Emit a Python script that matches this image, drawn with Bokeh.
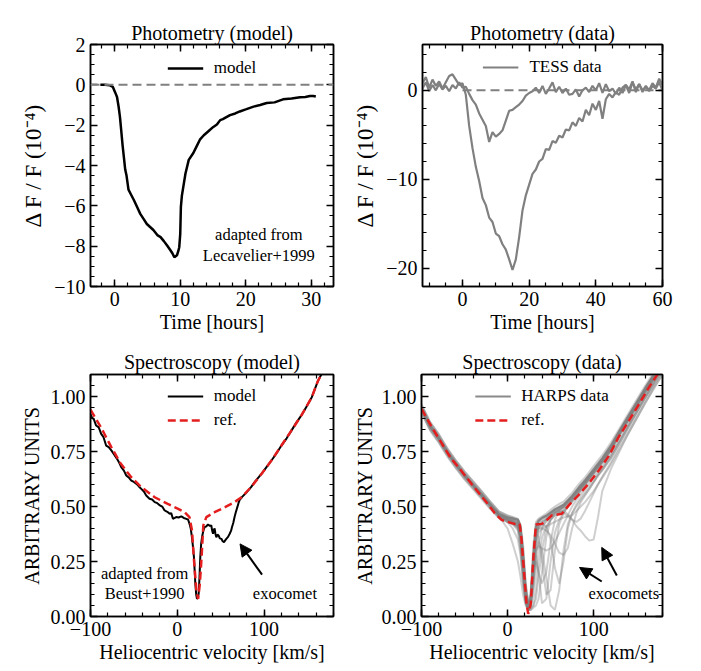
from bokeh.plotting import figure
from bokeh.models import (LinearAxis, SingleIntervalTicker, CustomJSTickFormatter, Span,
                          Arrow, NormalHead, Legend, LegendItem, Range1d, Label,
                          CustomLabelingPolicy)
from bokeh.layouts import column, row
from bokeh.embed import file_html
from bokeh.resources import INLINE

FONT = "Liberation Serif"
GRAY = "#808080"
RED = "#e41e1e"

# ---------------- photometry model (hours, 1e-4) ----------------
phot_model_t = [-2.2, -1.5, -0.8, -0.3, 0.1, 0.35, 0.6, 0.8, 1.0, 1.2,
                1.4, 1.6, 1.8, 2.1, 2.5, 2.9, 3.4, 3.9, 4.4, 4.9,
                5.4, 5.9, 6.5, 7.0, 7.5, 8.0, 8.5, 8.8, 9.1, 9.3,
                9.5, 9.7, 9.85, 10.0, 10.1, 10.25, 10.5, 10.8, 11.3, 12.0,
                12.5, 13.0, 13.6, 14.3, 15.0, 15.6, 16.1, 16.5, 17.6, 18.4,
                19.1, 20.0, 21.2, 22.2, 23.2, 24.4, 25.7, 27.0, 28.3, 29.1,
                29.8, 30.3, 30.7]
phot_model_f = [0.0, 0.0, -0.02, -0.1, -0.4, -0.6, -1.1, -1.6, -2.3, -3.0,
                -3.6, -4.2, -4.5, -5.2, -5.45, -5.7, -6.05, -6.4, -6.65, -6.9,
                -7.05, -7.2, -7.45, -7.55, -7.75, -7.97, -8.2, -8.35, -8.55, -8.5,
                -8.45, -8.25, -8.05, -7.4, -6.05, -5.5, -5.0, -4.4, -3.72, -3.38,
                -3.05, -2.72, -2.5, -2.3, -2.1, -1.97, -1.75, -1.7, -1.5, -1.42,
                -1.32, -1.22, -1.08, -1.0, -0.9, -0.87, -0.72, -0.68, -0.62, -0.6,
                -0.55, -0.55, -0.58]

# ---------------- TESS light curves (hourly) ----------------
tess_t = list(range(-12, 61))
tess_deep = [0.8, 1.5, 0.3, 1.2, 0.5, 1.0, 0.2, 0.9, 1.6, 1.8,
             1.2, 0.6, 0.8, -0.5, -4.0, -6.5, -8.6, -10.2, -12.1, -12.9,
             -14.3, -14.8, -16.1, -16.4, -17.3, -17.9, -19.0, -20.2, -19.0, -16.5,
             -13.5, -11.8, -10.6, -9.4, -8.9, -8.0, -7.7, -6.6, -6.7, -5.7,
             -5.9, -5.1, -5.3, -4.4, -4.5, -3.6, -4.0, -3.1, -3.5, -2.2,
             -2.8, -1.5, -2.2, -1.2, -3.2, -1.0, -0.4, -0.8, -0.2, -0.5,
             0.3, 0.6, -0.3, 0.9, 0.1, 0.7, -0.2, 0.5, 0.0, 0.8,
             0.3, 1.3, 0.6]
tess_shallow = [0.2, 0.9, -0.1, 0.6, 0.0, 0.7, 0.1, 0.5, -0.1, 0.6,
                0.2, 0.9, 0.3, 0.4, -0.4, -1.1, -1.6, -2.6, -3.3, -4.0,
                -5.8, -4.7, -5.2, -4.9, -4.5, -3.4, -2.3, -2.2, -1.9, -1.6,
                -1.2, -0.6, -0.3, -0.1, 0.3, -0.3, 0.5, -0.4, 0.2, 0.9,
                -0.2, 0.4, -0.3, 0.2, -0.5, -0.4, 0.1, -0.7, 0.0, 0.3,
                -0.2, 0.5, 0.0, 0.8, -0.3, 0.7, -0.1, 0.2, -0.4, 0.3,
                -0.3, 0.6, 0.1, 1.0, -0.2, 0.7, 0.0, 0.4, -0.1, 0.5,
                0.2, 0.9, 0.0]

# ---------------- spectroscopy model (km/s, arbitrary units) ----------------
spec_model_v = [-100, -98.5, -96, -93.5, -90.5, -87.7, -85, -82, -79, -76,
                -73, -70, -67, -64.6, -61.5, -58.8, -56, -53, -50, -47,
                -44, -41.5, -38.5, -35.8, -32, -29, -26, -23, -20, -17,
                -14.6, -11.5, -8.8, -7, -5, -3, -1.2, 1.5, 4.6, 7.5,
                10.4, 12.5, 14.2, 15.5, 16.9, 18, 19.2, 20, 20.8, 21.8,
                22.7, 23.6, 24.6, 25.5, 26.5, 27.5, 28.5, 30, 31.5, 33.5,
                35.4, 37.5, 39.2, 40.2, 41.2, 42, 43, 44, 45, 46.3,
                47.7, 49, 50.8, 52.3, 53.8, 55, 56.5, 58.5, 60.4, 62,
                63, 64.5, 66, 67.5, 69.2, 70.5, 71.9, 75, 80, 85,
                90, 97, 103, 108.5, 114, 120, 126, 131.5, 137, 143,
                149, 155, 162, 166, 170, 180]
spec_model_f = [0.92, 0.906, 0.895, 0.868, 0.86, 0.83, 0.815, 0.777, 0.77, 0.755,
                0.738, 0.72, 0.70, 0.679, 0.663, 0.641, 0.632, 0.618, 0.612, 0.603,
                0.59, 0.58, 0.568, 0.55, 0.535, 0.532, 0.52, 0.515, 0.505, 0.498,
                0.482, 0.476, 0.467, 0.47, 0.444, 0.448, 0.452, 0.45, 0.455, 0.448,
                0.444, 0.44, 0.42, 0.40, 0.36, 0.32, 0.27, 0.21, 0.148, 0.10,
                0.08, 0.085, 0.103, 0.17, 0.27, 0.33, 0.36, 0.39, 0.406, 0.41,
                0.418, 0.412, 0.414, 0.39, 0.376, 0.392, 0.40, 0.375, 0.36, 0.372,
                0.368, 0.355, 0.353, 0.342, 0.338, 0.345, 0.353, 0.362, 0.376, 0.39,
                0.406, 0.425, 0.452, 0.475, 0.497, 0.515, 0.53, 0.545, 0.565, 0.588,
                0.615, 0.648, 0.68, 0.709, 0.74, 0.777, 0.81, 0.845, 0.88, 0.914,
                0.955, 0.997, 1.07, 1.1, 1.14, 1.25]

spec_ref_model_v = [-100, -88, -76, -65, -53, -41.5, -26, -11, 1, 8.5,
                    14, 17, 19, 22, 24, 26, 28, 30, 33.5, 43,
                    55, 66, 74, 85, 97, 108.5, 120, 131.5, 143, 155,
                    162, 166, 180]
spec_ref_model_f = [0.94, 0.86, 0.77, 0.694, 0.633, 0.588, 0.542, 0.512, 0.489, 0.474,
                    0.452, 0.39, 0.27, 0.118, 0.08, 0.148, 0.27, 0.414, 0.452, 0.474,
                    0.497, 0.52, 0.542, 0.588, 0.648, 0.709, 0.777, 0.845, 0.914, 0.997,
                    1.07, 1.1, 1.25]

# ---------------- HARPS spectra and reference profile ----------------
harps_v = [-100, -90, -80, -70, -60, -50, -40, -30, -20, -10,
           0, 6, 12, 15, 18, 21, 24, 27, 30, 33, 36,
           40, 45, 50, 55, 60, 65, 70, 75, 80, 85, 90, 95, 100, 105, 110,
           120, 130, 140, 150, 160, 170, 180]
h01 = [0.95, 0.87, 0.815, 0.75, 0.695, 0.645, 0.6, 0.556, 0.51, 0.468,
       0.452, 0.447, 0.44, 0.41, 0.30, 0.14, 0.05, 0.10, 0.30, 0.42, 0.44,
       0.45, 0.46, 0.475, 0.49, 0.50, 0.51, 0.53, 0.55, 0.575, 0.6, 0.62, 0.645, 0.67, 0.695, 0.72,
       0.78, 0.845, 0.91, 0.975, 1.04, 1.10, 1.16]
h02 = [0.94, 0.862, 0.808, 0.744, 0.69, 0.638, 0.594, 0.55, 0.505, 0.462,
       0.445, 0.44, 0.43, 0.39, 0.25, 0.08, 0.03, 0.06, 0.22, 0.38, 0.43,
       0.445, 0.455, 0.47, 0.485, 0.495, 0.505, 0.525, 0.545, 0.57, 0.59, 0.615, 0.64, 0.665, 0.69, 0.715,
       0.77, 0.84, 0.905, 0.97, 1.035, 1.095, 1.155]
h03 = [0.948, 0.866, 0.812, 0.748, 0.693, 0.642, 0.598, 0.553, 0.507, 0.465,
       0.448, 0.443, 0.435, 0.40, 0.27, 0.10, 0.03, 0.04, 0.10, 0.22, 0.33,
       0.40, 0.44, 0.465, 0.48, 0.49, 0.50, 0.52, 0.54, 0.565, 0.59, 0.61, 0.635, 0.66, 0.685, 0.71,
       0.765, 0.835, 0.9, 0.965, 1.03, 1.09, 1.15]
h04 = [0.945, 0.864, 0.81, 0.746, 0.691, 0.64, 0.596, 0.552, 0.506, 0.463,
       0.446, 0.44, 0.42, 0.36, 0.22, 0.08, 0.03, 0.03, 0.04, 0.05, 0.08,
       0.20, 0.36, 0.44, 0.47, 0.485, 0.50, 0.52, 0.54, 0.565, 0.585, 0.61, 0.635, 0.66, 0.685, 0.71,
       0.765, 0.83, 0.895, 0.96, 1.025, 1.085, 1.145]
h05 = [0.946, 0.865, 0.81, 0.747, 0.692, 0.641, 0.597, 0.552, 0.506, 0.46,
       0.44, 0.43, 0.41, 0.35, 0.20, 0.07, 0.03, 0.05, 0.15, 0.28, 0.20,
       0.06, 0.08, 0.25, 0.38, 0.44, 0.47, 0.50, 0.53, 0.555, 0.58, 0.605, 0.63, 0.655, 0.68, 0.705,
       0.76, 0.83, 0.895, 0.96, 1.025, 1.085, 1.145]
h06 = [0.943, 0.862, 0.808, 0.745, 0.69, 0.64, 0.595, 0.55, 0.503, 0.458,
       0.435, 0.42, 0.39, 0.30, 0.16, 0.06, 0.03, 0.06, 0.18, 0.30, 0.34,
       0.30, 0.18, 0.05, 0.03, 0.12, 0.30, 0.42, 0.47, 0.50, 0.53, 0.555, 0.58, 0.61, 0.64, 0.665,
       0.72, 0.79, 0.86, 0.93, 1.0, 1.065, 1.13]
h07 = [0.947, 0.866, 0.81, 0.748, 0.692, 0.642, 0.596, 0.551, 0.505, 0.46,
       0.44, 0.432, 0.42, 0.38, 0.24, 0.09, 0.04, 0.08, 0.25, 0.38, 0.40,
       0.40, 0.39, 0.37, 0.33, 0.29, 0.28, 0.31, 0.40, 0.47, 0.52, 0.55, 0.58, 0.61, 0.64, 0.665,
       0.72, 0.79, 0.86, 0.93, 0.995, 1.06, 1.12]
h08 = [0.944, 0.862, 0.809, 0.745, 0.69, 0.64, 0.595, 0.55, 0.504, 0.46,
       0.44, 0.43, 0.41, 0.37, 0.22, 0.08, 0.03, 0.07, 0.24, 0.37, 0.40,
       0.41, 0.43, 0.45, 0.47, 0.48, 0.48, 0.465, 0.44, 0.41, 0.39, 0.365, 0.345, 0.35, 0.45, 0.57,
       0.67, 0.75, 0.83, 0.90, 0.97, 1.04, 1.10]
h09 = [0.942, 0.86, 0.806, 0.743, 0.688, 0.638, 0.593, 0.548, 0.502, 0.456,
       0.436, 0.428, 0.41, 0.36, 0.21, 0.07, 0.03, 0.07, 0.20, 0.33, 0.38,
       0.40, 0.41, 0.42, 0.43, 0.44, 0.45, 0.455, 0.46, 0.48, 0.50, 0.52, 0.545, 0.57, 0.60, 0.63,
       0.69, 0.76, 0.83, 0.90, 0.97, 1.035, 1.10]
h10 = [0.946, 0.864, 0.81, 0.746, 0.692, 0.641, 0.596, 0.551, 0.505, 0.46,
       0.442, 0.435, 0.42, 0.38, 0.24, 0.09, 0.04, 0.08, 0.26, 0.38, 0.41,
       0.42, 0.41, 0.35, 0.22, 0.15, 0.25, 0.40, 0.47, 0.51, 0.54, 0.565, 0.59, 0.615, 0.645, 0.67,
       0.73, 0.80, 0.87, 0.94, 1.005, 1.07, 1.13]
h11 = [0.962, 0.882, 0.828, 0.762, 0.708, 0.658, 0.613, 0.568, 0.522, 0.478,
       0.46, 0.452, 0.445, 0.42, 0.33, 0.16, 0.06, 0.12, 0.33, 0.43, 0.445,
       0.455, 0.468, 0.485, 0.5, 0.512, 0.522, 0.542, 0.562, 0.588, 0.612, 0.632, 0.658, 0.683, 0.708, 0.733,
       0.79, 0.855, 0.92, 0.985, 1.05, 1.11, 1.17]
h12 = [0.93, 0.85, 0.797, 0.734, 0.68, 0.63, 0.585, 0.541, 0.495, 0.452,
       0.436, 0.432, 0.425, 0.39, 0.26, 0.11, 0.04, 0.05, 0.14, 0.30, 0.40,
       0.43, 0.445, 0.46, 0.475, 0.485, 0.495, 0.515, 0.535, 0.56, 0.585, 0.605, 0.63, 0.655, 0.68, 0.705,
       0.76, 0.83, 0.895, 0.96, 1.025, 1.09, 1.15]
h13 = [0.95, 0.868, 0.814, 0.75, 0.696, 0.645, 0.6, 0.555, 0.509, 0.466,
       0.45, 0.445, 0.44, 0.41, 0.28, 0.12, 0.05, 0.09, 0.27, 0.41, 0.435,
       0.448, 0.458, 0.472, 0.487, 0.497, 0.508, 0.528, 0.548, 0.572, 0.597, 0.618, 0.643, 0.668, 0.693, 0.718,
       0.775, 0.843, 0.908, 0.972, 1.038, 1.1, 1.16]
h14 = [0.945, 0.864, 0.81, 0.746, 0.692, 0.641, 0.596, 0.551, 0.505, 0.46,
       0.44, 0.43, 0.40, 0.32, 0.18, 0.07, 0.03, 0.03, 0.05, 0.12, 0.25,
       0.36, 0.41, 0.44, 0.46, 0.47, 0.485, 0.505, 0.525, 0.55, 0.575, 0.6, 0.625, 0.65, 0.675, 0.70,
       0.755, 0.825, 0.89, 0.955, 1.02, 1.08, 1.14]
h15 = [0.946, 0.865, 0.811, 0.747, 0.692, 0.642, 0.597, 0.552, 0.506, 0.462,
       0.444, 0.436, 0.425, 0.39, 0.25, 0.09, 0.04, 0.08, 0.26, 0.39, 0.42,
       0.43, 0.44, 0.455, 0.47, 0.475, 0.47, 0.455, 0.44, 0.43, 0.445, 0.48, 0.52, 0.56, 0.60, 0.635,
       0.70, 0.775, 0.845, 0.915, 0.985, 1.05, 1.115]
h16 = [0.944, 0.862, 0.808, 0.744, 0.69, 0.64, 0.595, 0.55, 0.503, 0.455,
       0.40, 0.33, 0.25, 0.18, 0.10, 0.05, 0.03, 0.06, 0.22, 0.36, 0.41,
       0.425, 0.44, 0.46, 0.475, 0.485, 0.495, 0.515, 0.535, 0.56, 0.585, 0.605, 0.63, 0.655, 0.68, 0.705,
       0.76, 0.83, 0.895, 0.96, 1.025, 1.09, 1.15]
h17 = [0.947, 0.866, 0.812, 0.748, 0.693, 0.643, 0.598, 0.553, 0.507, 0.462,
       0.43, 0.40, 0.35, 0.28, 0.15, 0.06, 0.03, 0.07, 0.25, 0.39, 0.425,
       0.44, 0.452, 0.468, 0.482, 0.492, 0.502, 0.522, 0.542, 0.567, 0.592, 0.612, 0.637, 0.662, 0.687, 0.712,
       0.768, 0.838, 0.903, 0.968, 1.033, 1.095, 1.155]
h18 = [0.965, 0.885, 0.83, 0.765, 0.71, 0.66, 0.615, 0.57, 0.522, 0.478,
       0.458, 0.45, 0.44, 0.41, 0.30, 0.14, 0.06, 0.10, 0.22, 0.25, 0.20,
       0.15, 0.20, 0.34, 0.44, 0.48, 0.50, 0.52, 0.545, 0.57, 0.595, 0.62, 0.645, 0.67, 0.695, 0.72,
       0.775, 0.845, 0.91, 0.975, 1.04, 1.10, 1.16]
h19 = [0.93, 0.85, 0.795, 0.732, 0.677, 0.627, 0.582, 0.538, 0.492, 0.45,
       0.43, 0.42, 0.40, 0.36, 0.22, 0.08, 0.03, 0.04, 0.05, 0.08, 0.18,
       0.30, 0.40, 0.44, 0.46, 0.47, 0.48, 0.50, 0.52, 0.545, 0.57, 0.595, 0.62, 0.645, 0.67, 0.695,
       0.75, 0.82, 0.885, 0.95, 1.015, 1.075, 1.135]
h20 = [0.958, 0.877, 0.822, 0.758, 0.703, 0.652, 0.607, 0.562, 0.515, 0.472,
       0.452, 0.445, 0.435, 0.40, 0.27, 0.10, 0.04, 0.08, 0.26, 0.38, 0.36,
       0.25, 0.10, 0.12, 0.30, 0.42, 0.47, 0.50, 0.525, 0.55, 0.575, 0.60, 0.625, 0.65, 0.675, 0.70,
       0.755, 0.825, 0.89, 0.955, 1.02, 1.08, 1.14]
h21 = [0.925, 0.845, 0.79, 0.727, 0.673, 0.622, 0.578, 0.533, 0.488, 0.446,
       0.428, 0.42, 0.41, 0.37, 0.22, 0.08, 0.03, 0.07, 0.20, 0.30, 0.32,
       0.31, 0.30, 0.31, 0.34, 0.38, 0.42, 0.46, 0.50, 0.53, 0.555, 0.58, 0.605, 0.63, 0.655, 0.68,
       0.735, 0.80, 0.865, 0.93, 0.995, 1.055, 1.115]
harps_spectra = [h01, h02, h03, h04, h05, h06, h07, h08, h09, h10,
                 h11, h12, h14, h15, h16, h17, h18, h19, h20, h21]
harps_typical = h13

spec_ref_data_v = [-100, -89, -77, -66, -54, -42, -31, -23, -15, -7,
                   1, 9, 14, 16, 19, 22, 24, 27, 30, 33,
                   40, 45, 51, 63, 71, 82, 94, 106, 118, 129,
                   141, 153, 164, 174, 180]
spec_ref_data_f = [0.944, 0.868, 0.79, 0.72, 0.664, 0.603, 0.55, 0.512, 0.47, 0.439,
                   0.429, 0.42, 0.42, 0.36, 0.21, 0.058, 0.012, 0.058, 0.27, 0.418,
                   0.421, 0.436, 0.459, 0.467, 0.505, 0.55, 0.603, 0.664, 0.732, 0.815,
                   0.89, 0.967, 1.04, 1.1, 1.14]

for name, a, b in [("phot", phot_model_t, phot_model_f), ("tess1", tess_t, tess_deep),
                   ("tess2", tess_t, tess_shallow), ("spec", spec_model_v, spec_model_f),
                   ("refm", spec_ref_model_v, spec_ref_model_f),
                   ("refd", spec_ref_data_v, spec_ref_data_f),
                   ("typ", harps_v, harps_typical)] + \
                  [("h%02d" % (i + 1), harps_v, h) for i, h in enumerate(harps_spectra)]:
    if len(a) != len(b):
        raise ValueError(f"{name}: {len(a)} vs {len(b)}")


def minus_formatter(decimals):
    # tick labels with a proper minus sign
    return CustomJSTickFormatter(code=(
        "const s = Math.abs(tick).toFixed(%d);"
        "return (tick < -1e-9 ? '\u2212' : '') + s;" % decimals))


def style_axis(ax, ticker, labels=True):
    ax.ticker = ticker
    ax.axis_line_color = "black"
    ax.axis_line_width = 1.5
    ax.major_tick_line_color = "black"
    ax.major_tick_line_width = 1.5
    ax.minor_tick_line_color = "black"
    ax.minor_tick_line_width = 1.2
    ax.major_tick_in = 7
    ax.major_tick_out = 0
    ax.minor_tick_in = 4
    ax.minor_tick_out = 0
    ax.major_label_text_font = FONT
    ax.major_label_text_color = "black"
    ax.axis_label_text_font = FONT
    ax.axis_label_text_font_style = "normal"
    ax.axis_label_text_color = "black"
    ax.axis_label_text_font_size = "20px"
    if labels:
        ax.major_label_text_font_size = "20px"
        ax.major_label_standoff = 5
    else:
        # mirror axis: ticks only, no labels drawn at all
        ax.major_label_text_font_size = "2px"
        ax.major_label_standoff = 0
        ax.formatter = CustomJSTickFormatter(code="return '';")
        ax.major_label_policy = CustomLabelingPolicy(code="return [];")


def panel(title, xr, yr, xstep, xminor, ystep, yminor, ydec, width, height,
          borders, xlabel, ylabel, ylabel_size="20px", ylabel_standoff=5,
          title_standoff=4):
    p = figure(width=width, height=height, x_range=Range1d(*xr), y_range=Range1d(*yr),
               output_backend="svg", toolbar_location=None, title=title,
               min_border_left=borders[0], min_border_right=borders[1],
               min_border_top=borders[2], min_border_bottom=borders[3])
    p.grid.visible = False
    p.background_fill_color = "white"
    p.border_fill_color = "white"
    p.outline_line_color = "black"
    p.outline_line_width = 1.5
    p.title.text_font = FONT
    p.title.text_font_size = "20px"
    p.title.text_font_style = "normal"
    p.title.text_color = "black"
    p.title.align = "center"
    p.title.standoff = title_standoff
    xt = SingleIntervalTicker(interval=xstep, num_minor_ticks=xminor)
    yt = SingleIntervalTicker(interval=ystep, num_minor_ticks=yminor)
    style_axis(p.xaxis[0], xt)
    style_axis(p.yaxis[0], yt)
    p.xaxis[0].formatter = minus_formatter(0)
    p.yaxis[0].formatter = minus_formatter(ydec)
    p.xaxis[0].axis_label = xlabel
    p.yaxis[0].axis_label = ylabel
    p.yaxis[0].axis_label_text_font_size = ylabel_size
    p.xaxis[0].axis_label_standoff = 2
    p.yaxis[0].axis_label_standoff = ylabel_standoff
    top = LinearAxis()
    style_axis(top, xt, labels=False)
    right = LinearAxis()
    style_axis(right, yt, labels=False)
    p.add_layout(top, "above")
    p.add_layout(right, "right")
    return p


def add_legend(p, items, margin):
    leg = Legend(items=items, location="top_center", border_line_alpha=0,
                 background_fill_alpha=0, label_text_font=FONT,
                 label_text_font_size="17px", label_text_color="black",
                 glyph_width=36, glyph_height=20, label_standoff=11,
                 spacing=4, padding=10, margin=margin, label_height=20)
    p.add_layout(leg)


def note(p, x, y, text):
    p.add_layout(Label(x=x, y=y, text=text, text_font=FONT, text_font_size="16.5px",
                       text_align="center", text_baseline="middle", text_color="black"))


def arrow(p, xs, ys, xe, ye):
    p.add_layout(Arrow(end=NormalHead(size=12, fill_color="black", line_color="black"),
                       x_start=xs, y_start=ys, x_end=xe, y_end=ye,
                       line_color="black", line_width=2))


YLAB_PHOT = "\u0394 F / F (10\u207b\u2074)"
YLAB_SPEC = "ARBITRARY UNITS"
XLAB_VEL = "Heliocentric velocity [km/s]"

# ---- Photometry (model)
p1 = panel("Photometry (model)", (-3.7, 33.4), (-10, 2), 10, 5, 2, 4, 0,
           350, 335, (90, 17, 44, 46), "Time [hours]", YLAB_PHOT, ylabel_size="23px",
           title_standoff=1)
p1.add_layout(Span(location=0, dimension="width", line_color=GRAY,
                   line_width=2, line_dash="9 5"))
r_pm = p1.line(phot_model_t, phot_model_f, line_color="black", line_width=2.5)
add_legend(p1, [LegendItem(label="model", renderers=[r_pm])], 4)
note(p1, 22.0, -7.4, "adapted from")
note(p1, 22.0, -8.45, "Lecavelier+1999")

# ---- Photometry (data)
p2 = panel("Photometry (data)", (-12, 60), (-22.05, 5.15), 20, 4, 10, 5, 0,
           351, 335, (68, 39, 44, 48), "Time [hours]", YLAB_PHOT, ylabel_size="23px",
           title_standoff=1)
p2.line([0, 60], [0, 0], line_color=GRAY, line_width=2, line_dash="9 5")
r_t1 = p2.line(tess_t, tess_deep, line_color=GRAY, line_width=2.2)
p2.line(tess_t, tess_shallow, line_color=GRAY, line_width=2.2)
add_legend(p2, [LegendItem(label="TESS data", renderers=[r_t1])], 3)

# ---- Spectroscopy (model)
p3 = panel("Spectroscopy (model)", (-100, 180), (0, 1.1), 100, 5, 0.25, 5, 2,
           350, 336, (90, 17, 39, 55), XLAB_VEL, YLAB_SPEC)
r_sm = p3.line(spec_model_v, spec_model_f, line_color="black", line_width=2)
r_rm = p3.line(spec_ref_model_v, spec_ref_model_f, line_color=RED,
               line_width=2.5, line_dash="8 4")
add_legend(p3, [LegendItem(label="model", renderers=[r_sm]),
                LegendItem(label="ref.", renderers=[r_rm])], 2)
note(p3, -37.6, 0.195, "adapted from")
note(p3, -37.6, 0.105, "Beust+1990")
note(p3, 124, 0.105, "exocomet")
arrow(p3, 97.7, 0.19, 72.3, 0.33)

# ---- Spectroscopy (data)
p4 = panel("Spectroscopy (data)", (-100, 180), (0, 1.1), 100, 5, 0.25, 5, 2,
           351, 336, (68, 39, 39, 55), XLAB_VEL, YLAB_SPEC, ylabel_standoff=3)
for spec in harps_spectra:
    p4.line(harps_v, spec, line_color=GRAY, line_alpha=0.38, line_width=2)
r_hp = p4.line(harps_v, harps_typical, line_color=GRAY, line_alpha=0.92, line_width=2)
r_rd = p4.line(spec_ref_data_v, spec_ref_data_f, line_color=RED,
               line_width=2.5, line_dash="8 4")
add_legend(p4, [LegendItem(label="HARPS data", renderers=[r_hp]),
                LegendItem(label="ref.", renderers=[r_rd])], 2)
note(p4, 135, 0.105, "exocomets")
arrow(p4, 109.4, 0.159, 83.6, 0.223)
arrow(p4, 126.9, 0.186, 109.4, 0.314)

layout = column(row(p1, p2, spacing=0), row(p3, p4, spacing=0), spacing=0)
open("out.html", "w").write(file_html(layout, INLINE))
